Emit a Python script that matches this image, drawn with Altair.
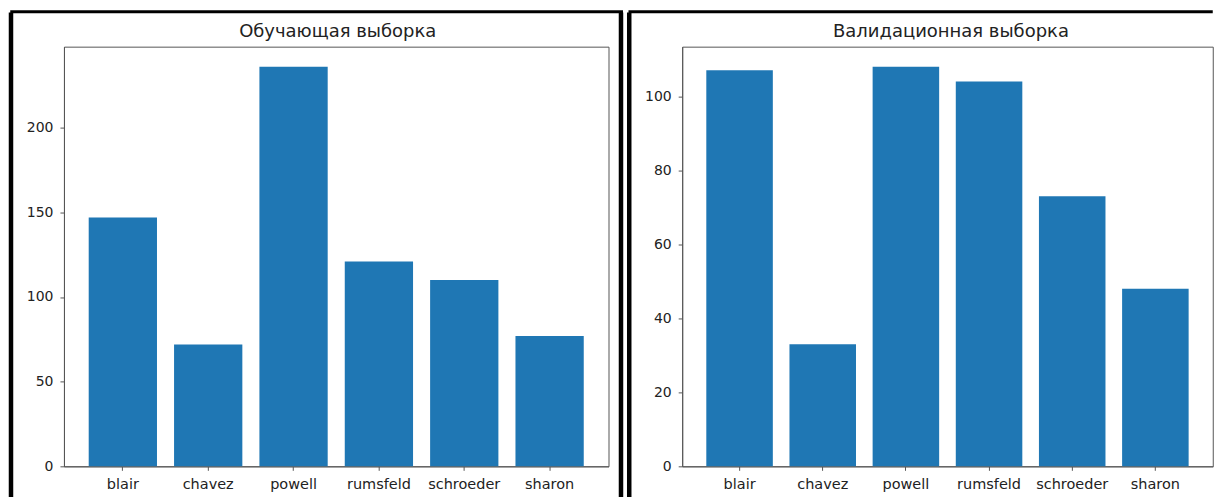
import altair as alt
import pandas as pd

names = ["blair", "chavez", "powell", "rumsfeld", "schroeder", "sharon"]
train_counts = [147, 72, 236, 121, 110, 77]
valid_counts = [107, 33, 108, 104, 73, 48]
train_ticks = [0, 50, 100, 150, 200]
valid_ticks = [0, 20, 40, 60, 80, 100]
train_title = "Обучающая выборка"
valid_title = "Валидационная выборка"

BAR = "#1f77b4"
FONT = "DejaVu Sans"
H = 420


def panel(counts, ticks, title, width, title_x, left_off, right_off, top_end):
    df = pd.DataFrame({"name": names, "count": counts})
    ymax = max(counts) * 1.05
    bars = alt.Chart(df).mark_bar(color=BAR).encode(
        x=alt.X("name:N", sort=names, title=None,
                scale=alt.Scale(paddingInner=0.2, paddingOuter=0.29),
                axis=alt.Axis(labelAngle=0, labelPadding=7, tickSize=4, labelFontSize=14.5)),
        y=alt.Y("count:Q", title=None,
                scale=alt.Scale(domain=[0, ymax], nice=False, zero=True),
                axis=alt.Axis(values=ticks, tickSize=4, labelPadding=7, labelFontSize=14)),
    )
    one = pd.DataFrame({"k": [0]})
    layers = [bars]
    # chart title as text
    layers.append(alt.Chart(one).mark_text(
        font=FONT, fontSize=18, color="#222", align="center", baseline="alphabetic"
    ).encode(x=alt.value(title_x), y=alt.value(-10), text=alt.value(title)))
    # figure frame (decoration)
    layers.append(alt.Chart(one).mark_rule(color="black", strokeWidth=3).encode(
        x=alt.value(left_off - 0.75), x2=alt.value(top_end), y=alt.value(-35)))
    layers.append(alt.Chart(one).mark_rule(color="black", strokeWidth=4.5).encode(
        x=alt.value(left_off), y=alt.value(-34.25), y2=alt.value(451)))
    if right_off is not None:
        layers.append(alt.Chart(one).mark_rule(color="black", strokeWidth=4.5).encode(
            x=alt.value(right_off), y=alt.value(-34.25), y2=alt.value(451)))
    return alt.layer(*layers).properties(width=width, height=H)


left = panel(train_counts, train_ticks, train_title, 545, 274, -53, 557.5, 559.5)
right = panel(valid_counts, valid_ticks, valid_title, 531, 269, -53, None, 531)

chart = alt.hconcat(left, right, spacing=73.75, bounds="flush").properties(
    padding={"left": 0, "top": 1.5, "right": 0, "bottom": 0}
).configure_view(
    stroke="#555", strokeWidth=1
).configure_axis(
    grid=False, domainColor="#555", tickColor="#555", labelColor="#222",
    labelFont=FONT, domainWidth=1, tickWidth=1
)

chart.save("out.html", embed_options={"renderer": "svg", "actions": False})
